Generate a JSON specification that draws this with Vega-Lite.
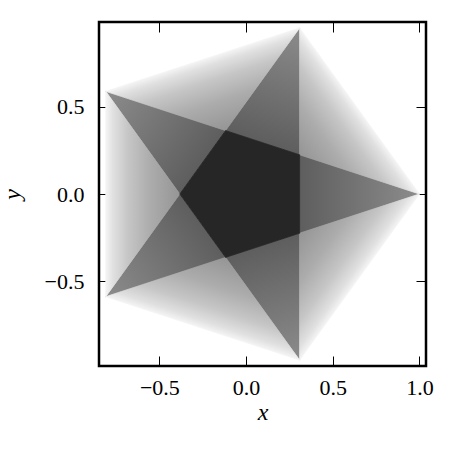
{
  "$schema": "https://vega.github.io/schema/vega-lite/v6.json",
  "width": 327,
  "height": 344,
  "autosize": "none",
  "padding": {"left": 99, "top": 22, "right": 32, "bottom": 92},
  "background": "white",
  "config": {
    "view": {"stroke": "black", "strokeWidth": 2.5},
    "axis": {
      "grid": false,
      "domain": false,
      "tickColor": "black",
      "tickWidth": 1,
      "tickSize": -10,
      "labelFont": "Liberation Serif",
      "labelFontSize": 22,
      "labelFontWeight": "normal",
      "labelColor": "black",
      "titleFont": "Liberation Serif",
      "titleFontStyle": "italic",
      "titleFontWeight": "normal",
      "titleFontSize": 24,
      "titleColor": "black"
    }
  },
  "data": {
    "values": [
      {"shape": "C", "i": 0, "x": 0.30902, "y": 0.22451},
      {"shape": "C", "i": 1, "x": -0.11803, "y": 0.36327},
      {"shape": "C", "i": 2, "x": -0.38197, "y": 0},
      {"shape": "C", "i": 3, "x": -0.11803, "y": -0.36327},
      {"shape": "C", "i": 4, "x": 0.30902, "y": -0.22451},
      {"shape": "A0", "i": 0, "x": 1, "y": 0},
      {"shape": "A0", "i": 1, "x": 0.30902, "y": 0.22451},
      {"shape": "A0", "i": 2, "x": 0.30902, "y": -0.22451},
      {"shape": "A1", "i": 0, "x": 0.30902, "y": 0.95106},
      {"shape": "A1", "i": 1, "x": -0.11803, "y": 0.36327},
      {"shape": "A1", "i": 2, "x": 0.30902, "y": 0.22451},
      {"shape": "A2", "i": 0, "x": -0.80902, "y": 0.58779},
      {"shape": "A2", "i": 1, "x": -0.38197, "y": 0},
      {"shape": "A2", "i": 2, "x": -0.11803, "y": 0.36327},
      {"shape": "A3", "i": 0, "x": -0.80902, "y": -0.58779},
      {"shape": "A3", "i": 1, "x": -0.11803, "y": -0.36327},
      {"shape": "A3", "i": 2, "x": -0.38197, "y": 0},
      {"shape": "A4", "i": 0, "x": 0.30902, "y": -0.95106},
      {"shape": "A4", "i": 1, "x": 0.30902, "y": -0.22451},
      {"shape": "A4", "i": 2, "x": -0.11803, "y": -0.36327},
      {"shape": "O0", "i": 0, "x": 1, "y": 0},
      {"shape": "O0", "i": 1, "x": 0.30902, "y": 0.95106},
      {"shape": "O0", "i": 2, "x": 0.30902, "y": 0.22451},
      {"shape": "O1", "i": 0, "x": 0.30902, "y": 0.95106},
      {"shape": "O1", "i": 1, "x": -0.80902, "y": 0.58779},
      {"shape": "O1", "i": 2, "x": -0.11803, "y": 0.36327},
      {"shape": "O2", "i": 0, "x": -0.80902, "y": 0.58779},
      {"shape": "O2", "i": 1, "x": -0.80902, "y": -0.58779},
      {"shape": "O2", "i": 2, "x": -0.38197, "y": 0},
      {"shape": "O3", "i": 0, "x": -0.80902, "y": -0.58779},
      {"shape": "O3", "i": 1, "x": 0.30902, "y": -0.95106},
      {"shape": "O3", "i": 2, "x": -0.11803, "y": -0.36327},
      {"shape": "O4", "i": 0, "x": 0.30902, "y": -0.95106},
      {"shape": "O4", "i": 1, "x": 1, "y": 0},
      {"shape": "O4", "i": 2, "x": 0.30902, "y": -0.22451}
    ]
  },
  "layer": [
    {
      "encoding": {
        "x": {"field": "x", "type": "quantitative", "scale": {"domain": [-0.848, 1.038], "nice": false, "zero": false},
              "axis": {"orient": "bottom", "values": [-0.5, 0, 0.5, 1], "format": ".1f", "title": "x", "labelPadding": 21, "titlePadding": 2}},
        "y": {"field": "y", "type": "quantitative", "scale": {"domain": [-0.985, 0.985], "nice": false, "zero": false},
              "axis": {"orient": "left", "values": [-0.5, 0, 0.5], "format": ".1f", "title": "y", "labelPadding": 25, "titlePadding": 20}},
        "order": {"field": "i", "type": "quantitative"}
      },
      "layer": [
        {
          "transform": [{"filter": "datum.shape === 'A0'"}],
          "mark": {"type": "line", "interpolate": "linear-closed", "strokeWidth": 0.8, "strokeJoin": "round",
            "fill": {"gradient": "linear", "x1": 1, "y1": 0.5, "x2": 0, "y2": 0.5, "stops": [{"offset": 0, "color": "#8c8c8c"}, {"offset": 0.5, "color": "#757575"}, {"offset": 1, "color": "#5e5e5e"}]},
            "stroke": {"gradient": "linear", "x1": 1, "y1": 0.5, "x2": 0, "y2": 0.5, "stops": [{"offset": 0, "color": "#8c8c8c"}, {"offset": 0.5, "color": "#757575"}, {"offset": 1, "color": "#5e5e5e"}]}}
        },
        {
          "transform": [{"filter": "datum.shape === 'A1'"}],
          "mark": {"type": "line", "interpolate": "linear-closed", "strokeWidth": 0.8, "strokeJoin": "round",
            "fill": {"gradient": "linear", "x1": 1, "y1": 0, "x2": 0.8157, "y2": 0.9648, "stops": [{"offset": 0, "color": "#8c8c8c"}, {"offset": 0.5, "color": "#757575"}, {"offset": 1, "color": "#5e5e5e"}]},
            "stroke": {"gradient": "linear", "x1": 1, "y1": 0, "x2": 0.8157, "y2": 0.9648, "stops": [{"offset": 0, "color": "#8c8c8c"}, {"offset": 0.5, "color": "#757575"}, {"offset": 1, "color": "#5e5e5e"}]}}
        },
        {
          "transform": [{"filter": "datum.shape === 'A2'"}],
          "mark": {"type": "line", "interpolate": "linear-closed", "strokeWidth": 0.8, "strokeJoin": "round",
            "fill": {"gradient": "linear", "x1": 0, "y1": 0, "x2": 0.8944, "y2": 0.5527, "stops": [{"offset": 0, "color": "#8c8c8c"}, {"offset": 0.5, "color": "#757575"}, {"offset": 1, "color": "#5e5e5e"}]},
            "stroke": {"gradient": "linear", "x1": 0, "y1": 0, "x2": 0.8944, "y2": 0.5527, "stops": [{"offset": 0, "color": "#8c8c8c"}, {"offset": 0.5, "color": "#757575"}, {"offset": 1, "color": "#5e5e5e"}]}}
        },
        {
          "transform": [{"filter": "datum.shape === 'A3'"}],
          "mark": {"type": "line", "interpolate": "linear-closed", "strokeWidth": 0.8, "strokeJoin": "round",
            "fill": {"gradient": "linear", "x1": 0, "y1": 1, "x2": 0.8944, "y2": 0.4473, "stops": [{"offset": 0, "color": "#8c8c8c"}, {"offset": 0.5, "color": "#757575"}, {"offset": 1, "color": "#5e5e5e"}]},
            "stroke": {"gradient": "linear", "x1": 0, "y1": 1, "x2": 0.8944, "y2": 0.4473, "stops": [{"offset": 0, "color": "#8c8c8c"}, {"offset": 0.5, "color": "#757575"}, {"offset": 1, "color": "#5e5e5e"}]}}
        },
        {
          "transform": [{"filter": "datum.shape === 'A4'"}],
          "mark": {"type": "line", "interpolate": "linear-closed", "strokeWidth": 0.8, "strokeJoin": "round",
            "fill": {"gradient": "linear", "x1": 1, "y1": 1, "x2": 0.8157, "y2": 0.0352, "stops": [{"offset": 0, "color": "#8c8c8c"}, {"offset": 0.5, "color": "#757575"}, {"offset": 1, "color": "#5e5e5e"}]},
            "stroke": {"gradient": "linear", "x1": 1, "y1": 1, "x2": 0.8157, "y2": 0.0352, "stops": [{"offset": 0, "color": "#8c8c8c"}, {"offset": 0.5, "color": "#757575"}, {"offset": 1, "color": "#5e5e5e"}]}}
        },
        {
          "transform": [{"filter": "datum.shape === 'O0'"}],
          "mark": {"type": "line", "interpolate": "linear-closed", "strokeWidth": 0.8, "strokeJoin": "round",
            "fill": {"gradient": "linear", "x1": 0, "y1": 0.764, "x2": 0.382, "y2": 0.382, "stops": [{"offset": 0, "color": "#959595"}, {"offset": 0.4, "color": "#acacac"}, {"offset": 0.7, "color": "#c6c6c6"}, {"offset": 0.9, "color": "#e0e0e0"}, {"offset": 1, "color": "#f4f4f4"}]},
            "stroke": {"gradient": "linear", "x1": 0, "y1": 0.764, "x2": 0.382, "y2": 0.382, "stops": [{"offset": 0, "color": "#959595"}, {"offset": 0.4, "color": "#acacac"}, {"offset": 0.7, "color": "#c6c6c6"}, {"offset": 0.9, "color": "#e0e0e0"}, {"offset": 1, "color": "#f4f4f4"}]}}
        },
        {
          "transform": [{"filter": "datum.shape === 'O1'"}],
          "mark": {"type": "line", "interpolate": "linear-closed", "strokeWidth": 0.8, "strokeJoin": "round",
            "fill": {"gradient": "linear", "x1": 0.618, "y1": 1, "x2": 0.2764, "y2": 0.4472, "stops": [{"offset": 0, "color": "#959595"}, {"offset": 0.4, "color": "#acacac"}, {"offset": 0.7, "color": "#c6c6c6"}, {"offset": 0.9, "color": "#e0e0e0"}, {"offset": 1, "color": "#f4f4f4"}]},
            "stroke": {"gradient": "linear", "x1": 0.618, "y1": 1, "x2": 0.2764, "y2": 0.4472, "stops": [{"offset": 0, "color": "#959595"}, {"offset": 0.4, "color": "#acacac"}, {"offset": 0.7, "color": "#c6c6c6"}, {"offset": 0.9, "color": "#e0e0e0"}, {"offset": 1, "color": "#f4f4f4"}]}}
        },
        {
          "transform": [{"filter": "datum.shape === 'O2'"}],
          "mark": {"type": "line", "interpolate": "linear-closed", "strokeWidth": 0.8, "strokeJoin": "round",
            "fill": {"gradient": "linear", "x1": 1, "y1": 0.5, "x2": 0, "y2": 0.5, "stops": [{"offset": 0, "color": "#959595"}, {"offset": 0.4, "color": "#acacac"}, {"offset": 0.7, "color": "#c6c6c6"}, {"offset": 0.9, "color": "#e0e0e0"}, {"offset": 1, "color": "#f4f4f4"}]},
            "stroke": {"gradient": "linear", "x1": 1, "y1": 0.5, "x2": 0, "y2": 0.5, "stops": [{"offset": 0, "color": "#959595"}, {"offset": 0.4, "color": "#acacac"}, {"offset": 0.7, "color": "#c6c6c6"}, {"offset": 0.9, "color": "#e0e0e0"}, {"offset": 1, "color": "#f4f4f4"}]}}
        },
        {
          "transform": [{"filter": "datum.shape === 'O3'"}],
          "mark": {"type": "line", "interpolate": "linear-closed", "strokeWidth": 0.8, "strokeJoin": "round",
            "fill": {"gradient": "linear", "x1": 0.618, "y1": 0, "x2": 0.2764, "y2": 0.5528, "stops": [{"offset": 0, "color": "#959595"}, {"offset": 0.4, "color": "#acacac"}, {"offset": 0.7, "color": "#c6c6c6"}, {"offset": 0.9, "color": "#e0e0e0"}, {"offset": 1, "color": "#f4f4f4"}]},
            "stroke": {"gradient": "linear", "x1": 0.618, "y1": 0, "x2": 0.2764, "y2": 0.5528, "stops": [{"offset": 0, "color": "#959595"}, {"offset": 0.4, "color": "#acacac"}, {"offset": 0.7, "color": "#c6c6c6"}, {"offset": 0.9, "color": "#e0e0e0"}, {"offset": 1, "color": "#f4f4f4"}]}}
        },
        {
          "transform": [{"filter": "datum.shape === 'O4'"}],
          "mark": {"type": "line", "interpolate": "linear-closed", "strokeWidth": 0.8, "strokeJoin": "round",
            "fill": {"gradient": "linear", "x1": 0, "y1": 0.236, "x2": 0.382, "y2": 0.618, "stops": [{"offset": 0, "color": "#959595"}, {"offset": 0.4, "color": "#acacac"}, {"offset": 0.7, "color": "#c6c6c6"}, {"offset": 0.9, "color": "#e0e0e0"}, {"offset": 1, "color": "#f4f4f4"}]},
            "stroke": {"gradient": "linear", "x1": 0, "y1": 0.236, "x2": 0.382, "y2": 0.618, "stops": [{"offset": 0, "color": "#959595"}, {"offset": 0.4, "color": "#acacac"}, {"offset": 0.7, "color": "#c6c6c6"}, {"offset": 0.9, "color": "#e0e0e0"}, {"offset": 1, "color": "#f4f4f4"}]}}
        }
      ]
    },
    {
      "transform": [{"filter": "datum.shape === 'C'"}],
      "mark": {"type": "line", "interpolate": "linear-closed", "fill": "#262626", "stroke": "#262626", "strokeWidth": 0.8, "strokeJoin": "round"},
      "encoding": {
        "x": {"field": "x", "type": "quantitative", "scale": {"domain": [-0.848, 1.038], "nice": false, "zero": false},
              "axis": {"orient": "top", "values": [-0.5, 0, 0.5, 1], "labels": false, "title": null}},
        "y": {"field": "y", "type": "quantitative", "scale": {"domain": [-0.985, 0.985], "nice": false, "zero": false},
              "axis": {"orient": "right", "values": [-0.5, 0, 0.5], "labels": false, "title": null}},
        "order": {"field": "i", "type": "quantitative"}
      }
    }
  ]
}
